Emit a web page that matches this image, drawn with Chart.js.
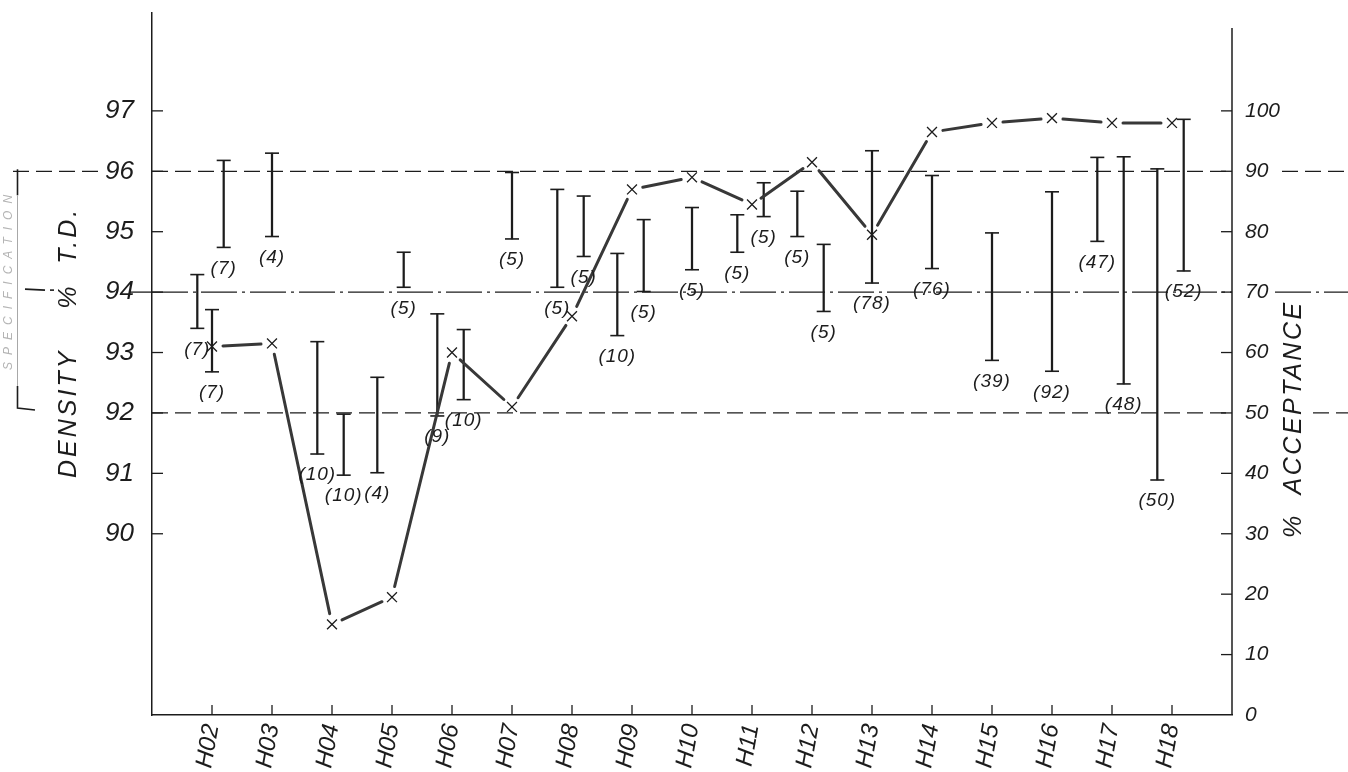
<!DOCTYPE html>
<html>
<head>
<meta charset="utf-8">
<title>Density and acceptance by lot</title>
<script src="https://cdn.jsdelivr.net/npm/chart.js@4.4.1/dist/chart.umd.min.js"></script>
<style>
  html, body { margin: 0; padding: 0; background: #ffffff; }
  #wrap { width: 1348px; height: 772px; position: relative; }
</style>
</head>
<body>
<div id="wrap"><canvas id="chart"></canvas></div>
<script>
// Lots along the bottom axis
const lots = ['H02', 'H03', 'H04', 'H05', 'H06', 'H07', 'H08', 'H09', 'H10',
              'H11', 'H12', 'H13', 'H14', 'H15', 'H16', 'H17', 'H18'];

// % acceptance per lot (right axis)
const acceptance = [61, 61.5, 15, 19.5, 60, 51, 66, 87, 89, 84.5, 91.5, 79.5, 96.5, 98, 98.8, 98, 98];

// Tick labels
const densityTicks = [90, 91, 92, 93, 94, 95, 96, 97];
const acceptanceTicks = [0, 10, 20, 30, 40, 50, 60, 70, 80, 90, 100];

// Density ranges (% T.D.): lot, slot beside the lot tick (-1 left, 0 centre, 1 right),
// lowest and highest density, number of samples
const rangeLot   = ['H02', 'H02', 'H02', 'H03', 'H04', 'H04', 'H05', 'H05', 'H06', 'H06',
                    'H07', 'H08', 'H08', 'H09', 'H09', 'H10', 'H11', 'H11', 'H12', 'H12',
                    'H13', 'H14', 'H15', 'H16', 'H17', 'H17', 'H18', 'H18'];
const rangeSlot  = [-1, 0, 1, 0, -1, 1, -1, 1, -1, 1,
                    0, -1, 1, -1, 1, 0, -1, 1, -1, 1,
                    0, 0, 0, 0, -1, 1, -1, 1];
const rangeLow   = [93.40, 92.68, 94.74, 94.92, 91.32, 90.97, 91.01, 94.08, 91.95, 92.22,
                    94.88, 94.08, 94.59, 93.28, 94.01, 94.37, 94.66, 95.25, 94.92, 93.68,
                    94.15, 94.39, 92.87, 92.69, 94.84, 92.48, 90.89, 94.35];
const rangeHigh  = [94.29, 93.71, 96.18, 96.30, 93.18, 91.98, 92.59, 94.66, 93.64, 93.38,
                    95.98, 95.70, 95.59, 94.64, 95.20, 95.40, 95.28, 95.81, 95.67, 94.79,
                    96.34, 95.93, 94.98, 95.66, 96.23, 96.24, 96.04, 96.86];
const rangeCount = [7, 7, 7, 4, 10, 10, 4, 5, 9, 10,
                    5, 5, 5, 10, 5, 5, 5, 5, 5, 5,
                    78, 76, 39, 92, 47, 48, 50, 52];

// Specification band on the density axis: upper limit, nominal, lower limit
const specLevels = [96, 94, 92];

// ---------------------------------------------------------------------------
const INK = '#1c1c1c';
const HAND = '"Liberation Sans", "DejaVu Sans", sans-serif';
const slotShift = { '-1': -0.245, '0': 0, '1': 0.195 };
const lotPos = lot => lots.indexOf(lot) + 1;
const rangePos = rangeLot.map((lot, i) => lotPos(lot) + slotShift[String(rangeSlot[i])]);

const rangeBars = rangePos.map((x, i) => ({ x, y: [rangeLow[i], rangeHigh[i]] }));
const rangeCaps = [];
rangePos.forEach((x, i) => {
  rangeCaps.push({ x, y: rangeHigh[i] });
  rangeCaps.push({ x, y: rangeLow[i] });
});
const acceptancePoints = acceptance.map((v, i) => ({ x: i + 1, y: v }));

// keep the plot frame fixed regardless of label overhang
const noOverhang = s => {
  s.paddingTop = 0; s.paddingBottom = 0; s.paddingLeft = 0; s.paddingRight = 0;
};

// Spec lines, tick marks, axis titles and the side bracket
const decorations = {
  id: 'decorations',
  beforeDatasetsDraw(chart) {
    const { ctx, chartArea: a, scales } = chart;
    const W = chart.width;
    ctx.save();
    ctx.strokeStyle = INK;
    ctx.lineWidth = 1.3;
    const line = (x1, x2, y, dash) => {
      ctx.setLineDash(dash);
      ctx.beginPath(); ctx.moveTo(x1, y); ctx.lineTo(x2, y); ctx.stroke();
    };
    const dashed = [16, 7];
    const dashDot = [36, 5, 3, 5];
    specLevels.forEach((lvl, k) => {
      const y = scales.yD.getPixelForValue(lvl);
      if (k === 1) {
        line(a.left, a.right, y, dashDot);
        line(a.left - 22, a.left, y, []);
        line(a.right + 43, W, y, dashDot);
      } else if (k === 0) {
        line(a.left, a.right, y, dashed);
        line(13, a.left - 52, y, dashed);
        line(a.right + 50, W, y, dashed);
      } else {
        line(a.left, a.right, y, dashed);
        line(a.right + 81, W, y, dashed);
      }
    });
    ctx.restore();
  },
  afterDraw(chart) {
    const { ctx, chartArea: a, scales } = chart;
    ctx.save();
    ctx.strokeStyle = INK;
    ctx.lineWidth = 1.3;
    ctx.setLineDash([]);
    // tick marks pointing into the plot
    densityTicks.forEach(v => {
      const y = scales.yD.getPixelForValue(v);
      ctx.beginPath(); ctx.moveTo(a.left, y); ctx.lineTo(a.left + 11, y); ctx.stroke();
    });
    acceptanceTicks.slice(1).forEach(v => {
      const y = scales.yA.getPixelForValue(v);
      ctx.beginPath(); ctx.moveTo(a.right - 11, y); ctx.lineTo(a.right, y); ctx.stroke();
    });
    lots.forEach((_, i) => {
      const x = scales.x.getPixelForValue(i + 1);
      ctx.beginPath(); ctx.moveTo(x, a.bottom); ctx.lineTo(x, a.bottom - 10); ctx.stroke();
    });
    // right axis line
    ctx.lineWidth = 1.5;
    ctx.beginPath(); ctx.moveTo(a.right, 28); ctx.lineTo(a.right, a.bottom); ctx.stroke();

    // specification bracket on the far left
    const yTop = scales.yD.getPixelForValue(specLevels[0]) - 2;
    const yMid = scales.yD.getPixelForValue(specLevels[1]) - 3;
    const yBot = scales.yD.getPixelForValue(specLevels[2]) - 5;
    ctx.lineWidth = 1.6;
    ctx.beginPath(); ctx.moveTo(17.5, yTop); ctx.lineTo(17.5, yTop + 26); ctx.stroke();
    ctx.beginPath(); ctx.moveTo(17.5, yBot - 22); ctx.lineTo(17.5, yBot); ctx.lineTo(35, yBot + 2); ctx.stroke();
    ctx.beginPath(); ctx.moveTo(25, yMid); ctx.lineTo(45, yMid + 1); ctx.stroke();
    ctx.beginPath(); ctx.moveTo(50, yMid + 1); ctx.lineTo(54, yMid + 1); ctx.stroke();
    ctx.strokeStyle = '#a8a8a8';
    ctx.lineWidth = 1;
    ctx.beginPath(); ctx.moveTo(17.5, yTop + 26); ctx.lineTo(17.5, yBot - 22); ctx.stroke();

    // axis titles
    ctx.fillStyle = INK;
    ctx.textBaseline = 'middle';
    ctx.textAlign = 'left';
    const vertical = (text, x, yStart, font, spacing, color) => {
      ctx.save();
      ctx.translate(x, yStart);
      ctx.rotate(-Math.PI / 2);
      ctx.font = font;
      ctx.fillStyle = color || INK;
      ctx.letterSpacing = spacing + 'px';
      ctx.fillText(text, 0, 0);
      ctx.restore();
    };
    vertical('DENSITY    %  T.D.', 69, 478, 'italic 25px ' + HAND, 3);
    vertical('%  ACCEPTANCE', 1294, 538, 'italic 25px ' + HAND, 2.5);
    vertical('SPECIFICATION', 9, 370, 'italic 12px ' + HAND, 7, '#b4b4b4');

    // sample counts under each range
    ctx.font = 'italic 19px ' + HAND;
    ctx.textAlign = 'center';
    ctx.letterSpacing = '1px';
    rangePos.forEach((x, i) => {
      const px = scales.x.getPixelForValue(x);
      const py = scales.yD.getPixelForValue(rangeLow[i]) + 21;
      ctx.fillText('(' + rangeCount[i] + ')', px, py);
    });
    ctx.restore();
  }
};

// Acceptance trace: heavy strokes that stop short of each marker
const acceptanceTrace = {
  id: 'acceptanceTrace',
  afterDatasetsDraw(chart) {
    const meta = chart.getDatasetMeta(2);
    const pts = meta.data;
    const { ctx } = chart;
    ctx.save();
    ctx.strokeStyle = '#383838';
    ctx.lineWidth = 3;
    ctx.lineCap = 'round';
    for (let i = 0; i < pts.length - 1; i++) {
      const p = pts[i], q = pts[i + 1];
      const dx = q.x - p.x, dy = q.y - p.y;
      const len = Math.hypot(dx, dy);
      const gap = 11;
      const ux = dx / len, uy = dy / len;
      ctx.beginPath();
      ctx.moveTo(p.x + ux * gap, p.y + uy * gap);
      ctx.lineTo(q.x - ux * gap, q.y - uy * gap);
      ctx.stroke();
    }
    ctx.restore();
  }
};

new Chart(document.getElementById('chart'), {
  data: {
    datasets: [
      {
        type: 'bar',
        data: rangeBars,
        yAxisID: 'yD',
        backgroundColor: INK,
        borderWidth: 0,
        barThickness: 1.6,
        borderSkipped: false
      },
      {
        type: 'scatter',
        data: rangeCaps,
        yAxisID: 'yD',
        pointStyle: 'line',
        pointRadius: 7,
        borderColor: INK,
        borderWidth: 1.6
      },
      {
        type: 'line',
        data: acceptancePoints,
        yAxisID: 'yA',
        showLine: false,
        pointStyle: 'crossRot',
        pointRadius: 7,
        borderColor: INK,
        borderWidth: 1.3
      }
    ]
  },
  options: {
    responsive: true,
    maintainAspectRatio: false,
    animation: false,
    layout: { padding: { top: 13, left: 0, right: 0, bottom: 0 } },
    plugins: { legend: { display: false }, tooltip: { enabled: false } },
    scales: {
      x: {
        type: 'linear',
        min: 0,
        max: lots.length + 1,
        offset: false,
        afterBuildTicks: s => { s.ticks = lots.map((_, i) => ({ value: i + 1 })); },
        afterFit: s => { s.height = 57; noOverhang(s); },
        grid: { display: false, drawTicks: false },
        border: { display: true, color: INK, width: 1.5 },
        ticks: {
          autoSkip: false,
          minRotation: 80,
          maxRotation: 80,
          padding: 7,
          color: INK,
          font: { family: HAND, size: 24, style: 'italic' },
          callback: v => lots[v - 1]
        }
      },
      yD: {
        type: 'linear',
        position: 'left',
        min: 87,
        max: 98.62,
        afterBuildTicks: s => { s.ticks = densityTicks.map(v => ({ value: v })); },
        afterFit: s => { s.width = 152; noOverhang(s); },
        grid: { display: false, drawTicks: false },
        border: { display: true, color: INK, width: 1.5 },
        ticks: {
          padding: 18,
          color: INK,
          font: { family: HAND, size: 26, style: 'italic' }
        }
      },
      yA: {
        type: 'linear',
        position: 'right',
        min: 0,
        max: 116.2,
        afterBuildTicks: s => { s.ticks = acceptanceTicks.map(v => ({ value: v })); },
        afterFit: s => { s.width = 116; noOverhang(s); },
        grid: { display: false, drawTicks: false },
        border: { display: false },
        ticks: {
          padding: 13,
          color: INK,
          font: { family: HAND, size: 21, style: 'italic' }
        }
      }
    }
  },
  plugins: [decorations, acceptanceTrace]
});
</script>
</body>
</html>
